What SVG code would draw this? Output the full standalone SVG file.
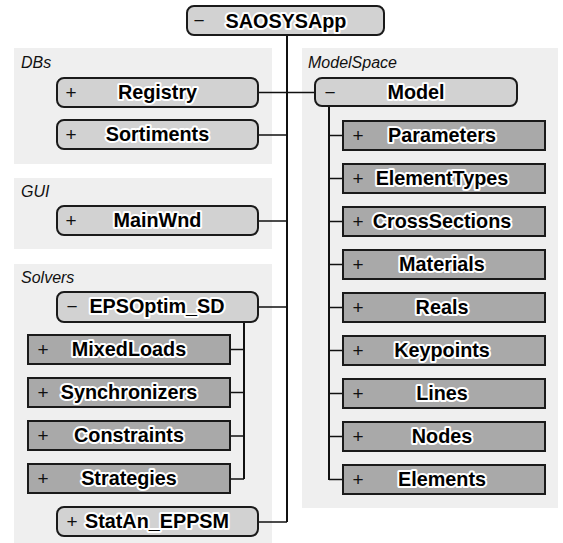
<svg xmlns="http://www.w3.org/2000/svg" width="563" height="543" viewBox="0 0 563 543">
  <style>
    .grp { fill: #efefef; }
    .glabel { font-family: "Liberation Sans", Arial, sans-serif; font-style: italic; font-size: 16px; fill: #111; }
    .pill { fill: #d2d2d2; stroke: #1a1a1a; stroke-width: 2; }
    .box { fill: #a9a9a9; stroke: #1a1a1a; stroke-width: 2; }
    .name { font-family: "Liberation Sans", Arial, sans-serif; font-weight: bold; font-size: 19.8px; fill: #000; stroke: #fff; stroke-width: 4; paint-order: stroke; stroke-linejoin: round; text-anchor: middle; }
    .sign { font-family: "Liberation Sans", Arial, sans-serif; font-size: 19px; fill: #111; text-anchor: middle; }
    .wire { fill: none; stroke: #111; stroke-width: 1.5; }
    .trunk { fill: none; stroke: #111; stroke-width: 2; }
  </style>

  <!-- group panels -->
  <g id="groups">
    <rect class="grp" x="14" y="48" width="258" height="116"/>
    <text class="glabel" x="21" y="68">DBs</text>
    <rect class="grp" x="14" y="178" width="258" height="71"/>
    <text class="glabel" x="21" y="197">GUI</text>
    <rect class="grp" x="14" y="264" width="258" height="279"/>
    <text class="glabel" x="21" y="283">Solvers</text>
    <rect class="grp" x="302" y="48" width="256" height="460"/>
    <text class="glabel" x="308" y="68">ModelSpace</text>
  </g>

  <!-- connectors -->
  <g id="connectors">
    <line class="trunk" x1="287" y1="35" x2="287" y2="522"/>
    <line class="wire" x1="258" y1="92.5" x2="315" y2="92.5"/>
    <line class="wire" x1="258" y1="135" x2="287" y2="135"/>
    <line class="wire" x1="258" y1="221" x2="287" y2="221"/>
    <line class="wire" x1="258" y1="307" x2="287" y2="307"/>
    <line class="wire" x1="258" y1="522" x2="287" y2="522"/>
    <!-- EPSOptim_SD children -->
    <line class="trunk" x1="244" y1="322" x2="244" y2="479"/>
    <line class="wire" x1="230" y1="349.5" x2="244" y2="349.5"/>
    <line class="wire" x1="230" y1="392.5" x2="244" y2="392.5"/>
    <line class="wire" x1="230" y1="436" x2="244" y2="436"/>
    <line class="wire" x1="230" y1="479" x2="244" y2="479"/>
    <!-- Model children -->
    <line class="trunk" x1="329" y1="106" x2="329" y2="480"/>
    <line class="wire" x1="329" y1="135.5" x2="343" y2="135.5"/>
    <line class="wire" x1="329" y1="178.5" x2="343" y2="178.5"/>
    <line class="wire" x1="329" y1="221.5" x2="343" y2="221.5"/>
    <line class="wire" x1="329" y1="264.5" x2="343" y2="264.5"/>
    <line class="wire" x1="329" y1="307.5" x2="343" y2="307.5"/>
    <line class="wire" x1="329" y1="350.5" x2="343" y2="350.5"/>
    <line class="wire" x1="329" y1="393.5" x2="343" y2="393.5"/>
    <line class="wire" x1="329" y1="436.5" x2="343" y2="436.5"/>
    <line class="wire" x1="329" y1="479.5" x2="343" y2="479.5"/>
  </g>

  <!-- root -->
  <g id="SAOSYSApp">
    <rect class="pill" x="187" y="6" width="197" height="29" rx="7"/>
    <text class="sign" x="199" y="27">−</text>
    <text class="name" x="286" y="28" font-size="20">SAOSYSApp</text>
  </g>

  <!-- DBs -->
  <g id="Registry">
    <rect class="pill" x="57" y="78" width="201" height="29" rx="7"/>
    <text class="sign" x="71" y="99">+</text>
    <text class="name" x="157.5" y="98.5">Registry</text>
  </g>
  <g id="Sortiments">
    <rect class="pill" x="57" y="120" width="201" height="29" rx="7"/>
    <text class="sign" x="71" y="141">+</text>
    <text class="name" x="157.5" y="140.5">Sortiments</text>
  </g>

  <!-- GUI -->
  <g id="MainWnd">
    <rect class="pill" x="57" y="206" width="201" height="29" rx="7"/>
    <text class="sign" x="71" y="227">+</text>
    <text class="name" x="157.5" y="226.5">MainWnd</text>
  </g>

  <!-- Solvers -->
  <g id="EPSOptim_SD">
    <rect class="pill" x="57" y="292" width="201" height="30" rx="7"/>
    <text class="sign" x="72" y="313">−</text>
    <text class="name" x="157" y="312.5">EPSOptim_SD</text>
  </g>
  <g id="MixedLoads">
    <rect class="box" x="28" y="335" width="202" height="29"/>
    <text class="sign" x="43" y="356">+</text>
    <text class="name" x="129" y="355.5">MixedLoads</text>
  </g>
  <g id="Synchronizers">
    <rect class="box" x="28" y="378" width="202" height="29"/>
    <text class="sign" x="43" y="399">+</text>
    <text class="name" x="129" y="398.5">Synchronizers</text>
  </g>
  <g id="Constraints">
    <rect class="box" x="28" y="421" width="202" height="29"/>
    <text class="sign" x="43" y="442">+</text>
    <text class="name" x="129" y="441.5">Constraints</text>
  </g>
  <g id="Strategies">
    <rect class="box" x="28" y="464" width="202" height="29"/>
    <text class="sign" x="43" y="485">+</text>
    <text class="name" x="129" y="484.5">Strategies</text>
  </g>
  <g id="StatAn_EPPSM">
    <rect class="pill" x="57" y="507" width="201" height="29" rx="7"/>
    <text class="sign" x="72" y="528">+</text>
    <text class="name" x="157" y="527.5">StatAn_EPPSM</text>
  </g>

  <!-- ModelSpace -->
  <g id="Model">
    <rect class="pill" x="315" y="78" width="202" height="28" rx="7"/>
    <text class="sign" x="330" y="99">−</text>
    <text class="name" x="416" y="98.5">Model</text>
  </g>
  <g id="Parameters">
    <rect class="box" x="343" y="121" width="202" height="29"/>
    <text class="sign" x="358" y="142">+</text>
    <text class="name" x="442" y="141.5">Parameters</text>
  </g>
  <g id="ElementTypes">
    <rect class="box" x="343" y="164" width="202" height="29"/>
    <text class="sign" x="358" y="185">+</text>
    <text class="name" x="442" y="184.5">ElementTypes</text>
  </g>
  <g id="CrossSections">
    <rect class="box" x="343" y="207" width="202" height="29"/>
    <text class="sign" x="358" y="228">+</text>
    <text class="name" x="442" y="227.5">CrossSections</text>
  </g>
  <g id="Materials">
    <rect class="box" x="343" y="250" width="202" height="29"/>
    <text class="sign" x="358" y="271">+</text>
    <text class="name" x="442" y="270.5">Materials</text>
  </g>
  <g id="Reals">
    <rect class="box" x="343" y="293" width="202" height="29"/>
    <text class="sign" x="358" y="314">+</text>
    <text class="name" x="442" y="313.5">Reals</text>
  </g>
  <g id="Keypoints">
    <rect class="box" x="343" y="336" width="202" height="29"/>
    <text class="sign" x="358" y="357">+</text>
    <text class="name" x="442" y="356.5">Keypoints</text>
  </g>
  <g id="Lines">
    <rect class="box" x="343" y="379" width="202" height="29"/>
    <text class="sign" x="358" y="400">+</text>
    <text class="name" x="442" y="399.5">Lines</text>
  </g>
  <g id="Nodes">
    <rect class="box" x="343" y="422" width="202" height="29"/>
    <text class="sign" x="358" y="443">+</text>
    <text class="name" x="442" y="442.5">Nodes</text>
  </g>
  <g id="Elements">
    <rect class="box" x="343" y="465" width="202" height="29"/>
    <text class="sign" x="358" y="486">+</text>
    <text class="name" x="442" y="485.5">Elements</text>
  </g>
</svg>
